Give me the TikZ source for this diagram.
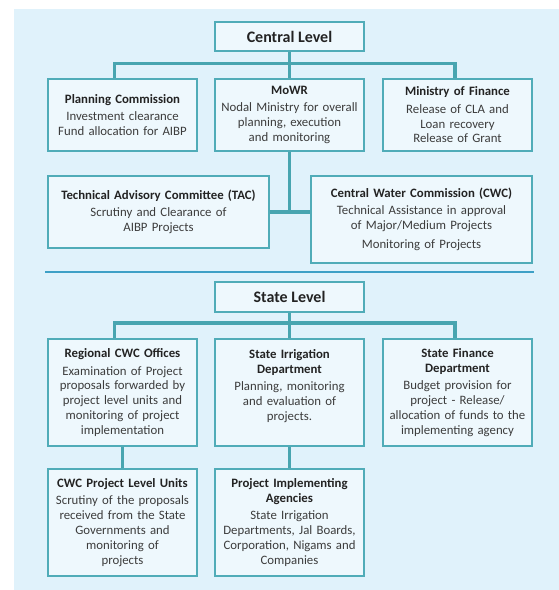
\documentclass[tikz,border=0pt]{standalone}
\usepackage{fontspec}
\setmainfont{Carlito}
\usepackage{tikz}
\usetikzlibrary{calc}
\definecolor{pagebg}{RGB}{224,242,251}
\definecolor{boxfill}{RGB}{238,248,253}
\definecolor{boxline}{RGB}{80,172,184}
\definecolor{busline}{RGB}{72,165,176}
\definecolor{ruleline}{RGB}{62,160,198}
\definecolor{titletext}{RGB}{35,35,35}
\definecolor{bodytext}{RGB}{60,60,60}
\newcommand{\unithead}[1]{{\color{titletext}\bfseries #1}\\[2.5pt]}

\begin{document}
\begin{tikzpicture}[x=1pt,y=-1pt,
  unit/.style={draw=boxline,fill=boxfill,line width=1.5pt,align=center,
    text=bodytext,font=\fontsize{12.8}{14.8}\selectfont,inner xsep=3pt,
    inner ysep=0pt,minimum width=149pt,text width=143pt},
  wideunit/.style={unit,minimum width=221pt,text width=215pt},
  level/.style={draw=boxline,fill=boxfill,line width=1.5pt,text=titletext,
    font=\fontsize{16}{18}\selectfont\bfseries,minimum width=149pt},
  bus/.style={draw=busline,line width=3.5pt}]
\useasboundingbox (0,0) rectangle (559,590);
\fill[pagebg] (14,9) rectangle (559,590);
\node[level,minimum height=29pt] (cl) at (289.5,36.5) {Central Level};
\node[unit,minimum height=72pt] (pc) at (122.5,115)
  {\unithead{Planning Commission}Investment clearance\\Fund allocation for AIBP};
\node[unit,minimum height=72pt] (mowr) at (289.5,115)
  {\unithead{MoWR}Nodal Ministry for overall\\planning, execution\\and monitoring};
\node[unit,minimum height=72pt] (mof) at (457.5,115)
  {\unithead{Ministry of Finance}Release of CLA and\\Loan recovery\\Release of Grant};
\node[wideunit,minimum height=72pt] (tac) at (158.5,212)
  {\unithead{Technical Advisory Committee (TAC)}Scrutiny and Clearance of\\AIBP Projects};
\node[wideunit,minimum height=87pt] (cwc) at (421.5,219.5)
  {\unithead{Central Water Commission (CWC)}Technical Assistance in approval\\of Major/Medium Projects\\[4.5pt]Monitoring of Projects};
%
\node[level,minimum height=30pt] (sl) at (289.5,297) {State Level};
\node[unit,minimum height=107pt] (rco) at (122.5,392.5)
  {\unithead{Regional CWC Offices}Examination of Project\\proposals forwarded by\\project level units and\\monitoring of project\\implementation};
\node[unit,minimum height=107pt] (sid) at (289.5,392.5)
  {{\color{titletext}\bfseries State Irrigation\\Department}\\[2.5pt]Planning, monitoring\\and evaluation of\\projects.\\\mbox{}};
\node[unit,minimum height=107pt] (sfd) at (457.5,392.5)
  {{\color{titletext}\bfseries State Finance\\Department}\\[2.5pt]Budget provision for\\project - Release/\\allocation of funds to the\\implementing agency};
\node[unit,minimum height=107pt] (plu) at (122.5,522.5)
  {\unithead{CWC Project Level Units}Scrutiny of the proposals\\received from the State\\Governments and\\monitoring of\\projects};
\node[unit,minimum height=107pt] (pia) at (289.5,522.5)
  {{\color{titletext}\bfseries Project Implementing\\Agencies}\\[2.5pt]State Irrigation\\Departments, Jal Boards,\\Corporation, Nigams and\\Companies};

\coordinate (cbus) at (289.5,63.5);
\coordinate (sbus) at (289.5,323);
\draw[bus] (cl.south) -- (mowr.north)
           ([xshift=-8pt]pc.north) |- (cbus) -| ([xshift=-2.5pt]mof.north)
           (mowr.south) -- (mowr.south |- tac.east)
           (tac.east) -- (tac.east -| cwc.west)
           (sl.south) -- (sid.north)
           ([xshift=-8pt]rco.north) |- (sbus) -| ([xshift=-2.5pt]sfd.north)
           (rco.south) -- (plu.north)
           (sid.south) -- (pia.north)
;
\draw[ruleline,line width=1.5pt] (45,272) -- (534,272);
\end{tikzpicture}
\end{document}
